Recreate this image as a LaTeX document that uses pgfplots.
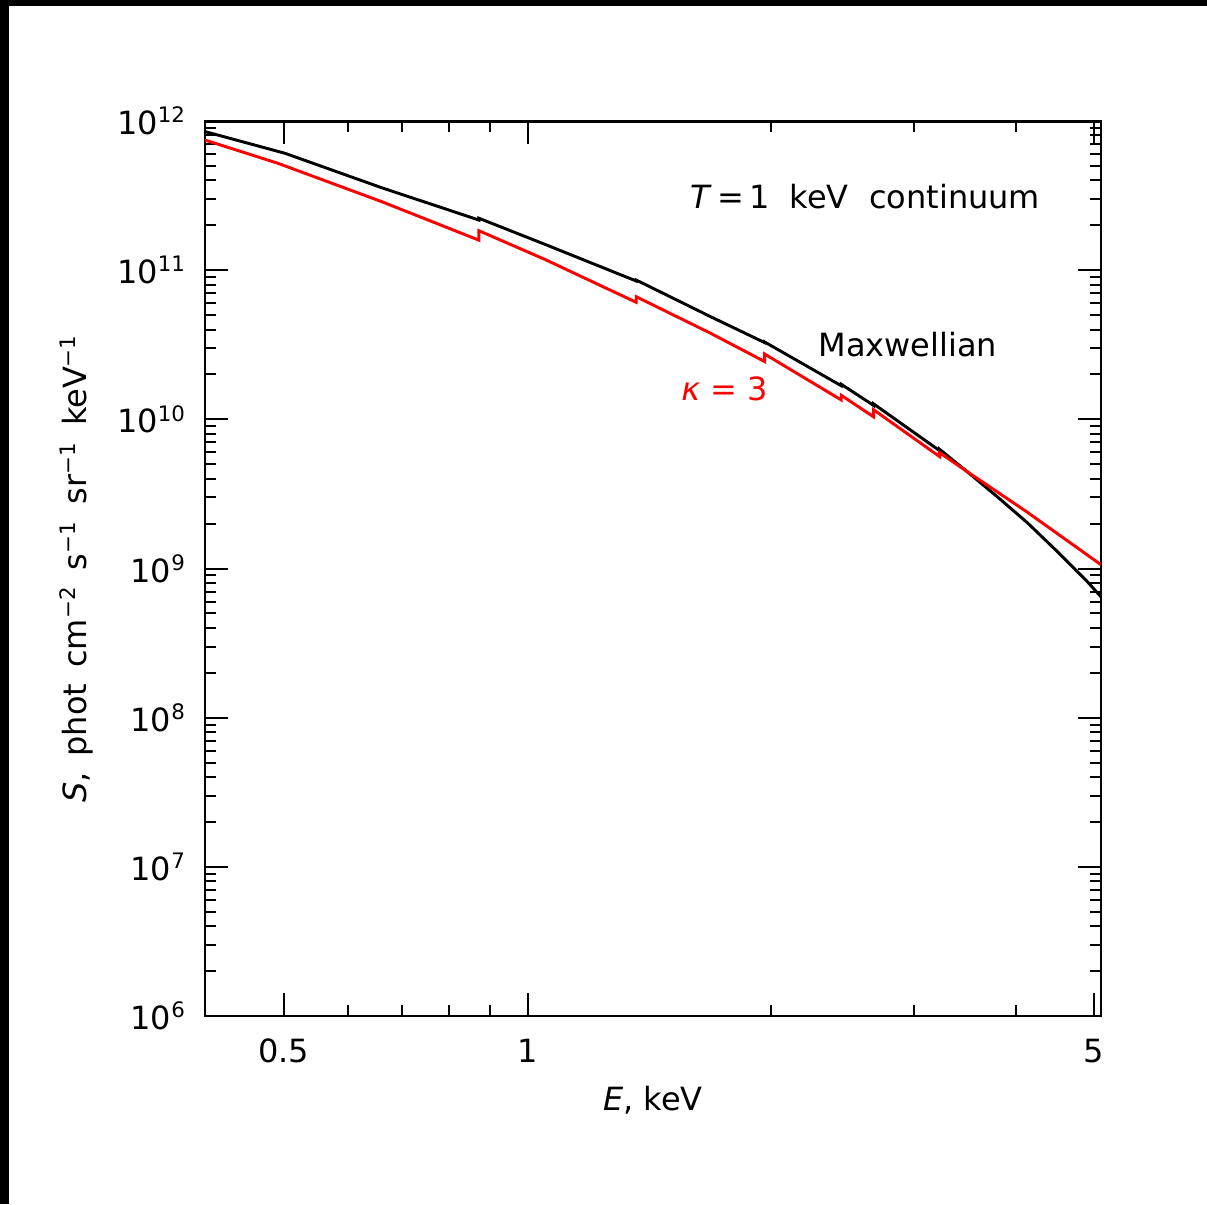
\documentclass[border=0pt]{standalone}
\usepackage{fontspec}
\setmainfont{DejaVu Sans}
\usepackage{pgfplots}
\pgfplotsset{compat=1.18}

\pgfplotstableread{
E S
0.400 8.50e11
0.502 6.08e11
0.661 3.57e11
0.871 2.17e11
0.871 2.23e11
1.051 1.49e11
1.362 8.46e10
1.362 8.59e10
1.682 4.88e10
1.962 3.27e10
1.962 3.30e10
2.438 1.68e10
2.438 1.72e10
2.673 1.24e10
2.673 1.27e10
3.224 6.17e9
3.224 6.30e9
3.503 4.37e9
3.798 3.03e9
4.136 2.03e9
4.504 1.30e9
4.905 8.17e8
5.100 6.46e8
}\maxw

\pgfplotstableread{
E S
0.400 7.46e11
0.492 5.21e11
0.661 2.88e11
0.871 1.59e11
0.871 1.84e11
1.051 1.18e11
1.362 6.09e10
1.362 6.64e10
1.682 3.78e10
1.962 2.44e10
1.962 2.74e10
2.438 1.35e10
2.438 1.45e10
2.673 1.04e10
2.673 1.16e10
3.224 5.63e9
3.224 5.98e9
3.503 4.39e9
4.130 2.40e9
5.100 1.06e9
}\kappa

\begin{document}
\begin{tikzpicture}
\begin{axis}[
  at={(0,0)}, anchor=south west,
  scale only axis, width=336pt, height=335.6pt,
  xmode=log, ymode=log,
  xmin=0.4, xmax=5.1, ymin=1e6, ymax=1e12,
  xtick={0.5,1,5}, xticklabels={0.5,1,5},
  minor xtick={0.6,0.7,0.8,0.9,2,3,4},
  ytick={1e6,1e7,1e8,1e9,1e10,1e11,1e12},
  yticklabels={10\textsuperscript{6},10\textsuperscript{7},10\textsuperscript{8},10\textsuperscript{9},10\textsuperscript{10},10\textsuperscript{11},10\textsuperscript{12}},
  minor ytick={2e6,3e6,4e6,5e6,6e6,7e6,8e6,9e6,
               2e7,3e7,4e7,5e7,6e7,7e7,8e7,9e7,
               2e8,3e8,4e8,5e8,6e8,7e8,8e8,9e8,
               2e9,3e9,4e9,5e9,6e9,7e9,8e9,9e9,
               2e10,3e10,4e10,5e10,6e10,7e10,8e10,9e10,
               2e11,3e11,4e11,5e11,6e11,7e11,8e11,9e11},
  tick align=inside, xtick pos=both, ytick pos=both,
  major tick length=8.6pt, minor tick length=4.1pt,
  every tick/.append style={black, line width=0.75pt},
  axis line style={line width=1.1pt},
  tick label style={font=\fontsize{12}{14}\selectfont},
  yticklabel style={xshift=-3.5pt},
  xticklabel style={yshift=-5pt},
  label style={font=\fontsize{12}{14}\selectfont},
  xlabel={\textit{E}, keV},
  ylabel={\textit{S},\hspace{6pt}phot\hspace{6pt}cm\textsuperscript{−2}\hspace{6pt}s\textsuperscript{−1}\hspace{6pt}sr\textsuperscript{−1}\hspace{6pt}keV\textsuperscript{−1}},
  xlabel style={yshift=-2pt},
  ylabel style={yshift=2pt},
]
\addplot[black, line width=1.1pt] table[x=E, y=S] {\maxw};
\addplot[red, line width=1.1pt] table[x=E, y=S] {\kappa};
\node[anchor=base west, font=\fontsize{12}{14}\selectfont] at (axis cs:1.545,2.61e11) {\textit{T}\,=\,1\ \ keV\ \ continuum};
\node[anchor=base west, font=\fontsize{12}{14}\selectfont] at (axis cs:2.226,2.63e10) {Maxwellian};
\node[anchor=base west, font=\fontsize{12}{14}\selectfont, red] at (axis cs:1.507,1.33e10) {\textit{κ} = 3};
\end{axis}
\fill[black] (-76.875pt,378.75pt) rectangle (375.75pt,381pt);
\fill[black] (-76.875pt,-70.5pt) rectangle (-73.5pt,381pt);
\pgfresetboundingbox
\useasboundingbox (-76.875pt,-70.5pt) rectangle (375.75pt,381pt);
\end{tikzpicture}
\end{document}
